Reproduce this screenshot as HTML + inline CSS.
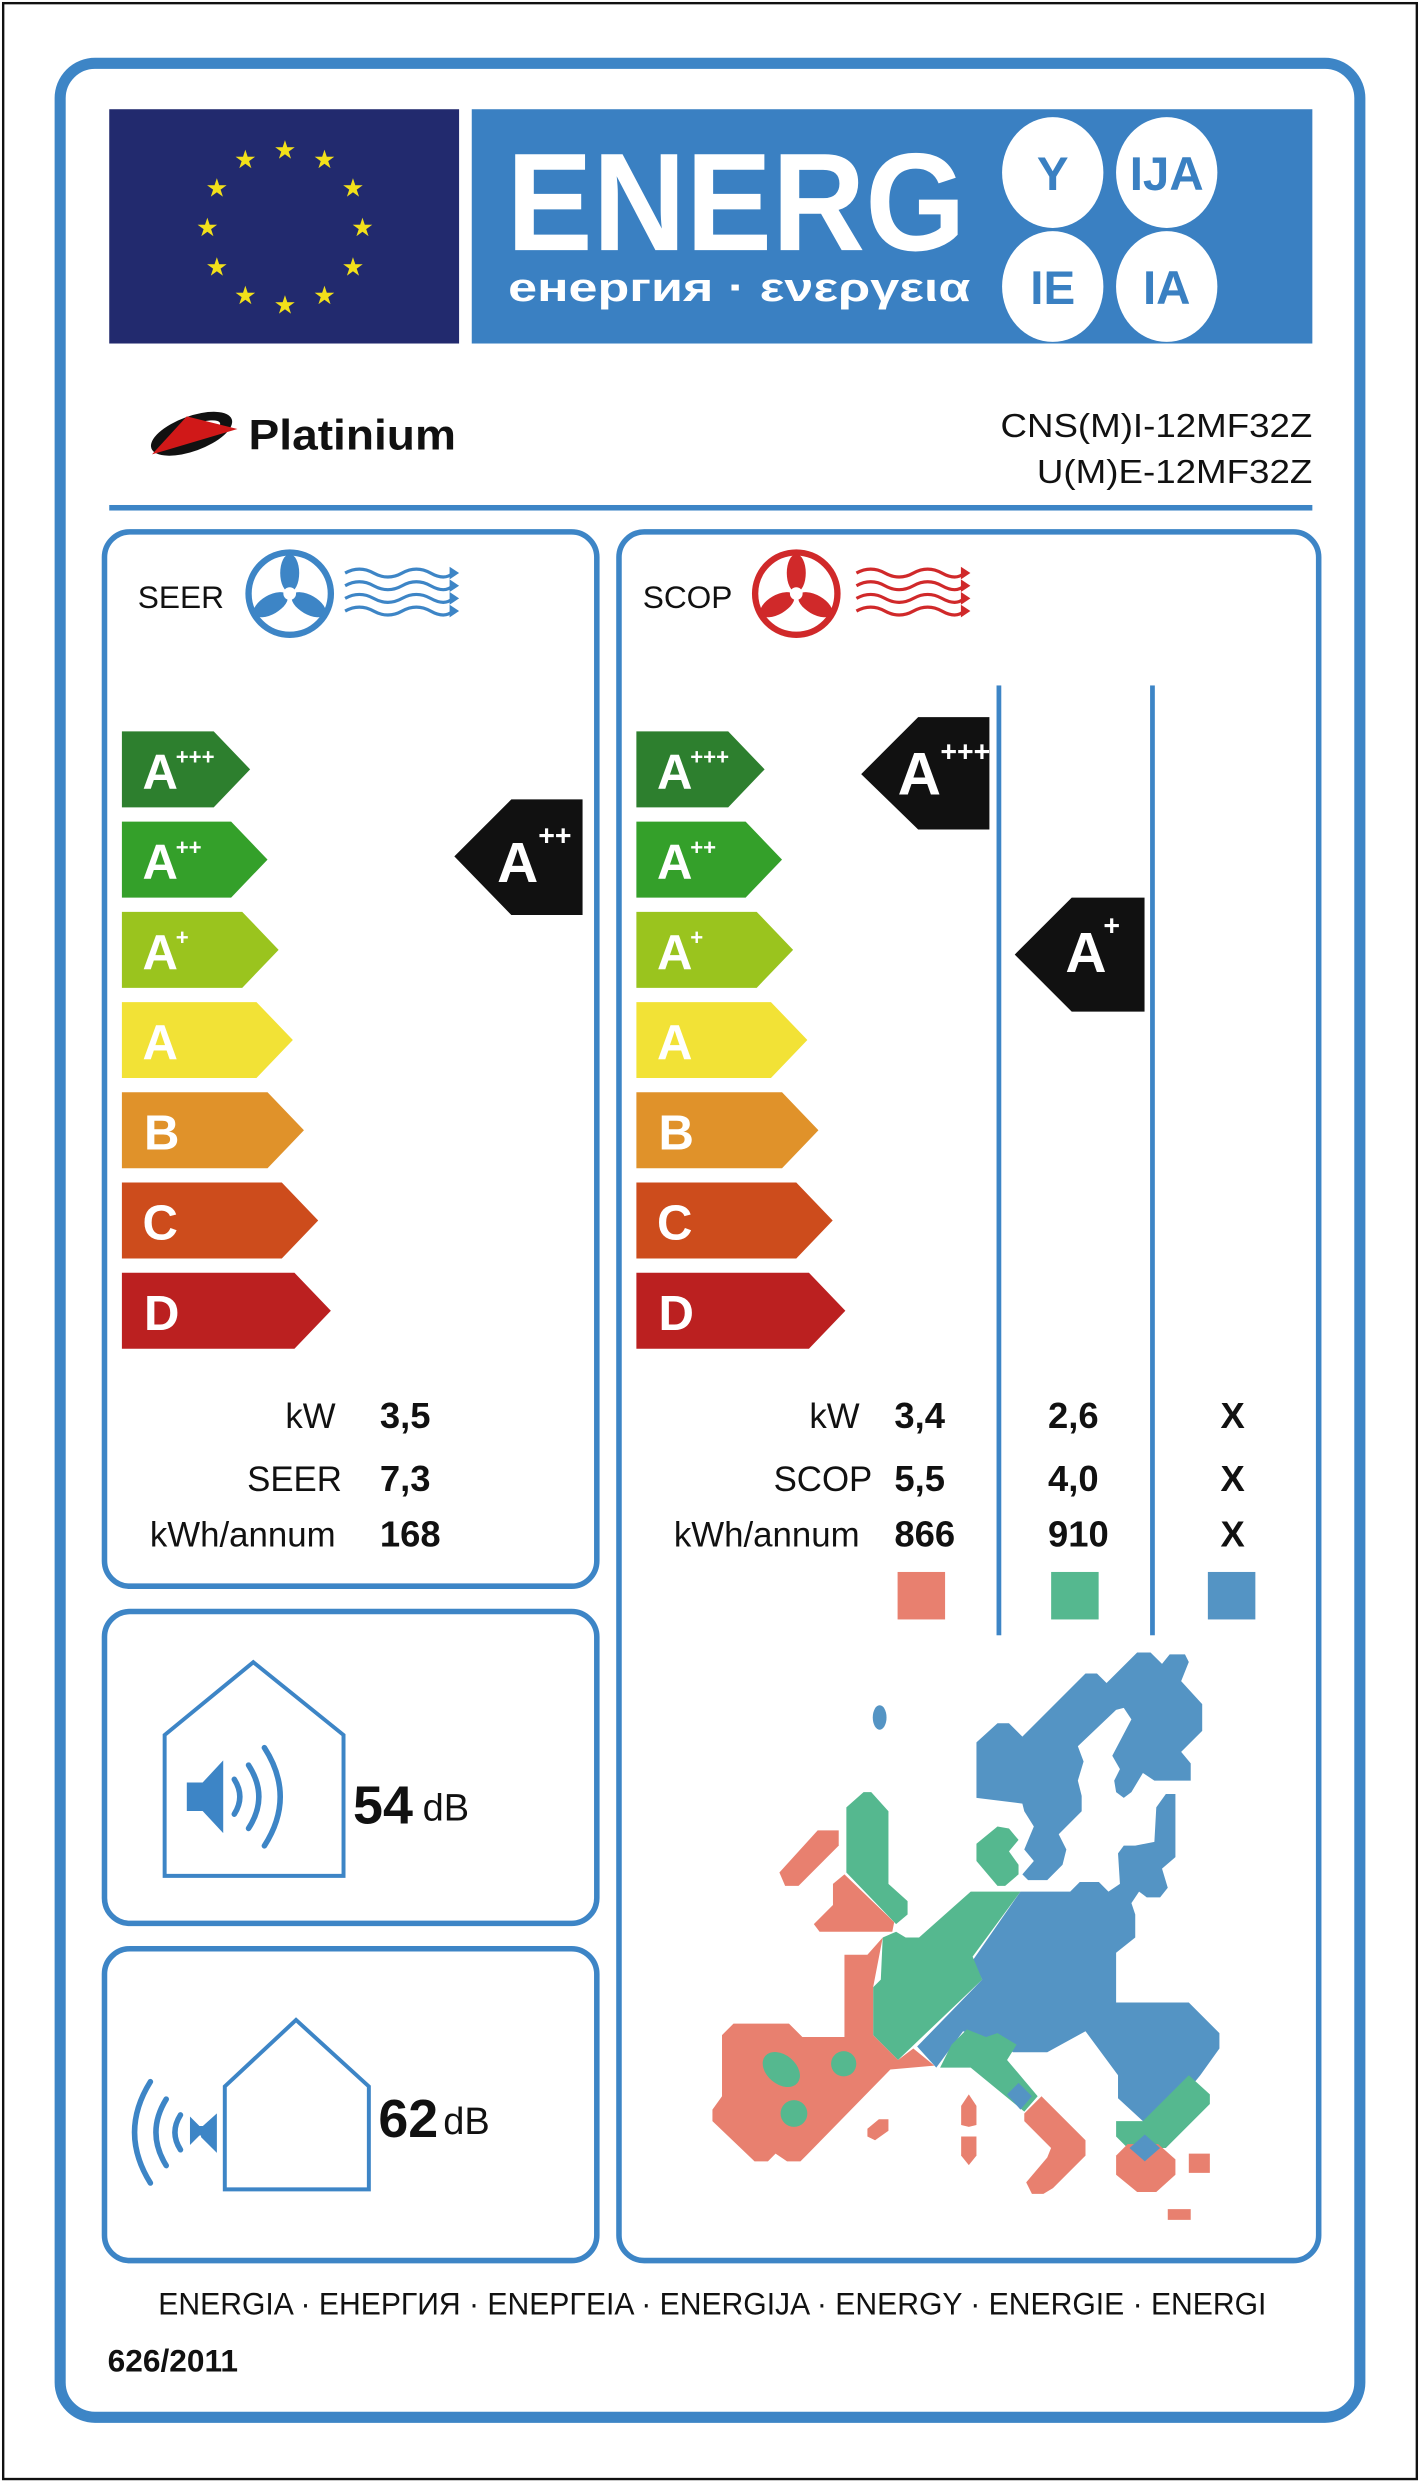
<!DOCTYPE html>
<html><head><meta charset="utf-8"><style>
html,body{margin:0;padding:0;background:#fff}
svg{display:block}
text{font-family:"Liberation Sans","DejaVu Sans",sans-serif}
</style></head><body>
<svg width="1420" height="2483" viewBox="0 0 897 1568.5" xmlns="http://www.w3.org/2000/svg">
<rect x="0" y="0" width="897" height="1568.5" fill="#fff"/>
<rect x="2" y="2" width="893" height="1564" fill="none" stroke="#111" stroke-width="1.5"/>
<rect x="38" y="40" width="821" height="1487" rx="22" fill="none" stroke="#3d85c6" stroke-width="7"/>

<!-- header -->
<rect x="69" y="69" width="221" height="148" fill="#222a6e"/>
<g fill="#f2e01a" font-size="16" text-anchor="middle">
<text x="180" y="100">★</text><text x="205" y="106">★</text><text x="223" y="124">★</text>
<text x="229" y="149">★</text><text x="223" y="174">★</text><text x="205" y="192">★</text>
<text x="180" y="198">★</text><text x="155" y="192">★</text><text x="137" y="174">★</text>
<text x="131" y="149">★</text><text x="137" y="124">★</text><text x="155" y="106">★</text>
</g>
<rect x="298" y="69" width="531" height="148" fill="#3a80c2"/>
<text x="320" y="158" fill="#fff" font-size="88" font-weight="bold" textLength="290" lengthAdjust="spacingAndGlyphs">ENERG</text>
<text x="321" y="190" fill="#fff" font-size="25" font-weight="bold" textLength="292" lengthAdjust="spacingAndGlyphs">енергия · ενεργεια</text>
<g fill="#fff"><ellipse cx="665" cy="109" rx="32" ry="35"/><ellipse cx="737" cy="109" rx="32" ry="35"/><ellipse cx="665" cy="181" rx="32" ry="35"/><ellipse cx="737" cy="181" rx="32" ry="35"/></g>
<g fill="#3a80c2" font-size="30" font-weight="bold" text-anchor="middle">
<text x="665" y="120">Y</text><text x="737" y="120">IJA</text><text x="665" y="192">IE</text><text x="737" y="192">IA</text></g>

<!-- brand -->
<ellipse cx="121" cy="274" rx="27" ry="11" fill="#111" transform="rotate(-20 121 274)"/>
<ellipse cx="123" cy="273" rx="17" ry="5" fill="#fff" transform="rotate(-20 123 273)"/>
<polygon points="96,287 118,263 150,271" fill="#d01818"/>
<text x="157" y="284" font-size="27" font-weight="bold" fill="#111" textLength="131" lengthAdjust="spacingAndGlyphs">Platinium</text>
<text x="829" y="276" font-size="21" text-anchor="end" fill="#111" textLength="197" lengthAdjust="spacingAndGlyphs">CNS(M)I-12MF32Z</text>
<text x="829" y="305" font-size="21" text-anchor="end" fill="#111" textLength="174" lengthAdjust="spacingAndGlyphs">U(M)E-12MF32Z</text>
<rect x="69" y="319" width="760" height="3.5" fill="#3d85c6"/>

<!-- panels -->
<g fill="none" stroke="#3d85c6" stroke-width="3.5">
<rect x="66" y="336" width="311" height="666" rx="16"/>
<rect x="391" y="336" width="442" height="1092" rx="16"/>
<rect x="66" y="1018" width="311" height="197" rx="16"/>
<rect x="66" y="1231" width="311" height="197" rx="16"/>
</g>

<!-- SEER header -->
<text x="87" y="384" font-size="20" fill="#111">SEER</text>
<circle cx="183" cy="375" r="26" fill="none" stroke="#3d85c6" stroke-width="4"/>
<g fill="#3d85c6"><ellipse cx="183" cy="362" rx="6" ry="12"/><ellipse cx="195" cy="382" rx="12" ry="6" transform="rotate(30 195 382)"/><ellipse cx="171" cy="382" rx="12" ry="6" transform="rotate(-30 171 382)"/></g>
<circle cx="183" cy="375" r="4" fill="#fff"/>
<g fill="none" stroke="#3d85c6" stroke-width="2">
<path d="M218 362 q9 -5 18 0 t18 0 t18 0 t14 0"/><path d="M218 370 q9 -5 18 0 t18 0 t18 0 t14 0"/><path d="M218 378 q9 -5 18 0 t18 0 t18 0 t14 0"/><path d="M218 386 q9 -5 18 0 t18 0 t18 0 t14 0"/></g>
<g fill="#3d85c6"><polygon points="284,358 290,362 284,366"/><polygon points="284,366 290,370 284,374"/><polygon points="284,374 290,378 284,382"/><polygon points="284,382 290,386 284,390"/></g>

<!-- SCOP header -->
<text x="406" y="384" font-size="20" fill="#111">SCOP</text>
<circle cx="503" cy="375" r="26" fill="none" stroke="#d0292a" stroke-width="4"/>
<g fill="#d0292a"><ellipse cx="503" cy="362" rx="6" ry="12"/><ellipse cx="515" cy="382" rx="12" ry="6" transform="rotate(30 515 382)"/><ellipse cx="491" cy="382" rx="12" ry="6" transform="rotate(-30 491 382)"/></g>
<circle cx="503" cy="375" r="4" fill="#fff"/>
<g fill="none" stroke="#d0292a" stroke-width="2">
<path d="M541 362 q9 -5 18 0 t18 0 t18 0 t14 0"/><path d="M541 370 q9 -5 18 0 t18 0 t18 0 t14 0"/><path d="M541 378 q9 -5 18 0 t18 0 t18 0 t14 0"/><path d="M541 386 q9 -5 18 0 t18 0 t18 0 t14 0"/></g>
<g fill="#d0292a"><polygon points="607,358 613,362 607,366"/><polygon points="607,366 613,370 607,374"/><polygon points="607,374 613,378 607,382"/><polygon points="607,382 613,386 607,390"/></g>

<!-- bars SEER -->
<g font-weight="bold" fill="#fff">
<polygon points="77,462 135,462 158,486 135,510 77,510" fill="#2d7f2e"/>
<polygon points="77,519 146,519 169,543 146,567 77,567" fill="#34a02a"/>
<polygon points="77,576 153,576 176,600 153,624 77,624" fill="#9ac41e"/>
<polygon points="77,633 162,633 185,657 162,681 77,681" fill="#f2e236"/>
<polygon points="77,690 169,690 192,714 169,738 77,738" fill="#e0922a"/>
<polygon points="77,747 178,747 201,771 178,795 77,795" fill="#cd4c1c"/>
<polygon points="77,804 186,804 209,828 186,852 77,852" fill="#bb2020"/>
<g font-size="31"><text x="90" y="498">A</text><text x="90" y="555">A</text><text x="90" y="612">A</text><text x="90" y="669">A</text><text x="91" y="726">B</text><text x="90" y="783">C</text><text x="91" y="840">D</text></g>
<g font-size="14"><text x="111" y="483">+++</text><text x="111" y="540">++</text><text x="111" y="597">+</text></g>
</g>
<!-- bars SCOP -->
<g font-weight="bold" fill="#fff">
<polygon points="402,462 460,462 483,486 460,510 402,510" fill="#2d7f2e"/>
<polygon points="402,519 471,519 494,543 471,567 402,567" fill="#34a02a"/>
<polygon points="402,576 478,576 501,600 478,624 402,624" fill="#9ac41e"/>
<polygon points="402,633 487,633 510,657 487,681 402,681" fill="#f2e236"/>
<polygon points="402,690 494,690 517,714 494,738 402,738" fill="#e0922a"/>
<polygon points="402,747 503,747 526,771 503,795 402,795" fill="#cd4c1c"/>
<polygon points="402,804 511,804 534,828 511,852 402,852" fill="#bb2020"/>
<g font-size="31"><text x="415" y="498">A</text><text x="415" y="555">A</text><text x="415" y="612">A</text><text x="415" y="669">A</text><text x="416" y="726">B</text><text x="415" y="783">C</text><text x="416" y="840">D</text></g>
<g font-size="14"><text x="436" y="483">+++</text><text x="436" y="540">++</text><text x="436" y="597">+</text></g>
</g>

<!-- indicators -->
<g fill="#111">
<polygon points="287,541 323,505 368,505 368,578 323,578"/>
<polygon points="544,489 580,453 625,453 625,524 580,524"/>
<polygon points="641,603 677,567 723,567 723,639 677,639"/>
</g>
<g fill="#fff" font-weight="bold">
<text x="314" y="557" font-size="36">A</text><text x="340" y="534" font-size="18">++</text>
<text x="567" y="502" font-size="38">A</text><text x="594" y="481" font-size="18">+++</text>
<text x="673" y="614" font-size="36">A</text><text x="697" y="591" font-size="18">+</text>
</g>
<rect x="629.5" y="433" width="3" height="600" fill="#3d85c6"/>
<rect x="726.5" y="433" width="3" height="600" fill="#3d85c6"/>

<!-- values -->
<g font-size="22" fill="#111" text-anchor="end">
<text x="212" y="902">kW</text><text x="216" y="942">SEER</text><text x="212" y="977">kWh/annum</text>
<text x="543" y="902">kW</text><text x="551" y="942">SCOP</text><text x="543" y="977">kWh/annum</text>
</g>
<g font-size="23" font-weight="bold" fill="#111">
<text x="240" y="902">3,5</text><text x="240" y="942">7,3</text><text x="240" y="977">168</text>
<text x="565" y="902">3,4</text><text x="565" y="942">5,5</text><text x="565" y="977">866</text>
<text x="662" y="902">2,6</text><text x="662" y="942">4,0</text><text x="662" y="977">910</text>
<text x="771" y="902">X</text><text x="771" y="942">X</text><text x="771" y="977">X</text>
</g>
<rect x="567" y="993" width="30" height="30" fill="#e8806f"/>
<rect x="664" y="993" width="30" height="30" fill="#55b88f"/>
<rect x="763" y="993" width="30" height="30" fill="#5494c4"/>

<!-- map -->
<g transform="translate(429.5,1023.3) scale(0.2417)">
<g fill="#5494c4">
<polygon points="775,320 830,270 860,270 895,305 1060,140 1090,140 1115,165 1195,85 1230,85 1260,115 1280,90 1320,90 1330,110 1310,160 1365,220 1365,290 1310,345 1335,375 1335,420 1240,420 1210,400 1180,450 1160,465 1140,450 1135,420 1150,390 1130,355 1180,260 1160,230 1140,235 1040,330 1055,370 1040,420 1050,460 1050,500 990,560 1010,600 1000,640 960,680 910,680 895,665 925,630 900,600 925,540 900,500 895,480 775,465"/>
<polygon points="890,710 1020,710 1045,685 1095,685 1120,710 1150,690 1145,610 1160,590 1190,590 1240,580 1245,490 1270,455 1295,455 1295,620 1260,650 1275,700 1255,725 1220,725 1200,710 1180,740 1190,770 1190,830 1140,870 1140,1000 1330,1000 1410,1080 1410,1120 1360,1190 1270,1300 1210,1310 1145,1250 1145,1190 1060,1075 960,1130 870,1130 830,1085 800,1095 740,1075 670,1170 620,1115 790,940 765,890"/>
<ellipse cx="522" cy="255" rx="18" ry="32"/>
</g>
<g fill="#55b88f">
<polygon points="530,830 565,815 590,830 625,830 760,710 890,710 765,880 790,940 570,1150 505,1085 505,960 525,940"/>
<polygon points="710,1110 750,1070 800,1090 830,1080 880,1110 855,1150 935,1245 900,1285 760,1170 680,1170"/>
<polygon points="435,490 480,450 500,450 545,500 545,690 595,735 595,770 565,795 435,660"/>
<polygon points="775,585 830,540 860,545 885,575 860,605 885,640 885,665 850,695 830,695 775,630"/>
<polygon points="1140,1310 1210,1310 1330,1190 1385,1240 1385,1265 1270,1380 1170,1380 1140,1350"/>
</g>
<g fill="#e8806f">
<polygon points="260,660 360,550 415,550 415,590 310,695 275,695"/>
<polygon points="430,665 560,790 555,815 365,815 350,795 400,745 400,690"/>
<polygon points="430,875 490,875 530,830 505,960 505,1085 570,1150 610,1120 665,1165 550,1175 330,1400 315,1415 280,1415 250,1395 230,1415 195,1415 85,1310 85,1280 110,1245 110,1085 140,1055 285,1055 320,1090 430,1090"/>
<polygon points="900,1290 945,1245 1060,1360 1060,1400 975,1485 950,1500 920,1500 905,1470 960,1405 970,1380 900,1310"/>
<polygon points="1140,1400 1170,1370 1250,1370 1295,1410 1295,1450 1245,1495 1195,1495 1140,1450"/>
<polygon points="1330,1395 1385,1395 1385,1445 1330,1445"/>
<polygon points="735,1270 755,1240 775,1270 775,1320 755,1325 735,1320"/>
<polygon points="735,1350 775,1350 775,1400 755,1425 735,1400"/>
<polygon points="490,1330 520,1305 545,1305 545,1335 510,1360 490,1350"/>
<polygon points="1275,1540 1335,1540 1335,1568 1275,1568"/>
</g>
<g fill="#55b88f"><ellipse cx="265" cy="1175" rx="55" ry="38" transform="rotate(40 265 1175)"/><circle cx="428" cy="1160" r="33"/><circle cx="298" cy="1290" r="35"/></g>
<g fill="#5494c4"><polygon points="855,1240 885,1210 920,1245 890,1280"/><polygon points="1175,1380 1215,1345 1255,1380 1215,1415"/></g>
</g>

<!-- noise panel 1 -->
<polygon points="104,1185 104,1096 160,1050 217,1096 217,1185" fill="none" stroke="#3d85c6" stroke-width="2.5"/>
<polygon points="118,1126 128,1126 141,1112 141,1158 128,1144 118,1144" fill="#3d85c6"/>
<g fill="none" stroke="#3d85c6" stroke-width="3.5" stroke-linecap="round">
<path d="M148 1124 q7 11 0 22"/><path d="M157 1115 q13 20 0 40"/><path d="M167 1104 q20 31 0 62"/></g>
<text x="223" y="1152" font-size="34" font-weight="bold" fill="#111">54</text>
<text x="267" y="1150" font-size="24" fill="#111">dB</text>

<!-- noise panel 2 -->
<polygon points="142,1383 142,1318 187,1276 233,1318 233,1383" fill="none" stroke="#3d85c6" stroke-width="2.5"/>
<polygon points="136,1343 126,1343 120,1337 120,1355 126,1349 136,1349" fill="#3d85c6"/>
<polygon points="137,1335 127,1344 127,1350 137,1360" fill="#3d85c6"/>
<g fill="none" stroke="#3d85c6" stroke-width="3.5" stroke-linecap="round">
<path d="M114 1336 q-7 11 0 22"/><path d="M105 1326 q-13 21 0 42"/><path d="M95 1315 q-20 32 0 64"/></g>
<text x="239" y="1350" font-size="34" font-weight="bold" fill="#111">62</text>
<text x="280" y="1348" font-size="24" fill="#111">dB</text>

<!-- footer -->
<text x="450" y="1462" font-size="20" fill="#111" text-anchor="middle" textLength="700" lengthAdjust="spacingAndGlyphs">ENERGIA · ЕНЕРГИЯ · ΕΝΕΡΓΕΙΑ · ENERGIJA · ENERGY · ENERGIE · ENERGI</text>
<text x="68" y="1498" font-size="20" font-weight="bold" fill="#111">626/2011</text>
</svg>
</body></html>
